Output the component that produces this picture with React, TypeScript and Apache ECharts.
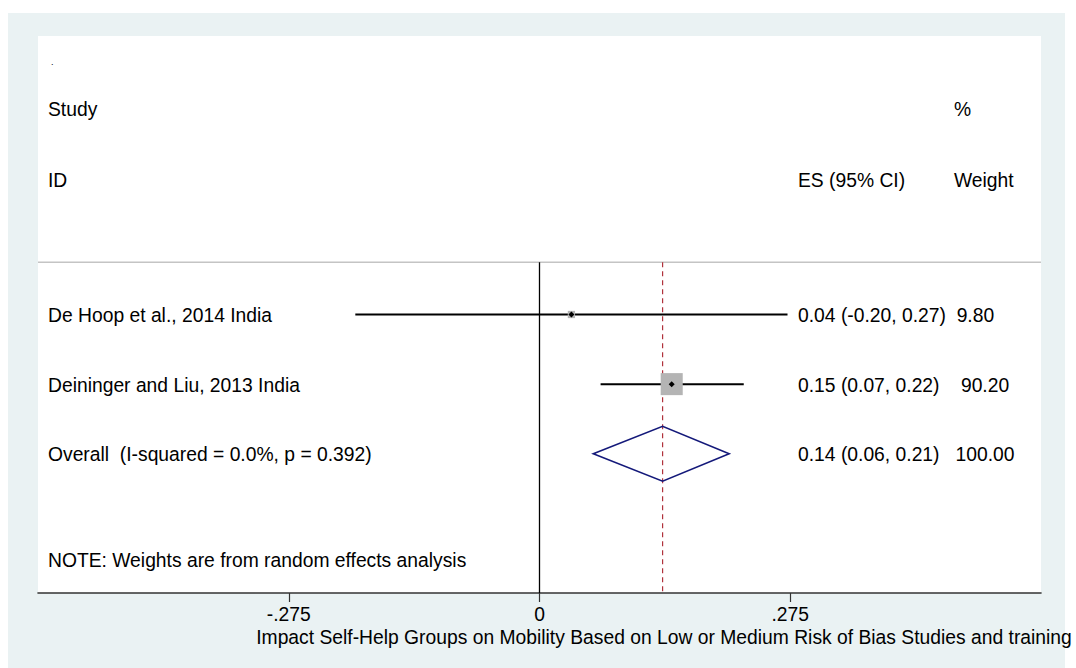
import React, { useEffect, useRef } from 'react';
import * as echarts from 'echarts';

// ---- data ----
const studies = ['De Hoop et al., 2014 India', 'Deininger and Liu, 2013 India'];
const studyES = [0.035, 0.145];
const studyLo = [-0.202, 0.067];
const studyHi = [0.272, 0.224];
const studyWeight = [9.8, 90.2];
const studyRow = [1, 2];

const overallLabel = 'Overall\u00a0\u00a0(I-squared = 0.0%, p = 0.392)';
const overallES = 0.135;
const overallLo = 0.059;
const overallHi = 0.208;
const overallRow = 3;

const esText = ['0.04 (-0.20, 0.27)', '0.15 (0.07, 0.22)', '0.14 (0.06, 0.21)'];
const weightText = ['9.80', '90.20', '100.00'];
const weightPad = [2, 4, 3];

const xTicks = [-0.275, 0, 0.275];
const xTickLabels = ['-.275', '0', '.275'];
const xTitle = 'Impact Self-Help Groups on Mobility Based on Low or Medium Risk of Bias Studies and training';
const noteText = 'NOTE: Weights are from random effects analysis';

// ---- layout constants ----
const X_MIN = -0.55;
const X_MAX = 0.55;
const Y_MIN = -3;
const Y_MAX = 5;
const RULE_ROW = 0.25;
const NOTE_ROW = 4.53;
const FONT = '"Liberation Sans", Arial, Helvetica, sans-serif';
const FS = 19.3;

export default function App() {
  const ref = useRef<HTMLDivElement>(null);

  useEffect(() => {
    if (!ref.current) return;
    const chart = echarts.init(ref.current, null, { renderer: 'svg' });

    const studyData = studies.map((_, i) => [studyLo[i], studyHi[i], studyES[i], studyWeight[i], studyRow[i]]);
    const labelRows = [
      ...studies.map((s, i) => ({ value: [X_MIN, studyRow[i]], name: s, idx: i })),
      { value: [X_MIN, overallRow], name: overallLabel, idx: 2 },
    ];

    const option: any = {
      animation: false,
      backgroundColor: '#ffffff',
      textStyle: { fontFamily: FONT },
      grid: { left: 38, right: 35, top: 36, bottom: 75, containLabel: false },
      xAxis: {
        type: 'value',
        min: X_MIN,
        max: X_MAX,
        interval: 0.275,
        axisLine: { show: true, onZero: false, lineStyle: { color: '#333333', width: 1.6 } },
        axisTick: { show: true, customValues: xTicks, length: 9, lineStyle: { color: '#333333', width: 1.2 } },
        axisLabel: {
          show: true,
          customValues: xTicks,
          margin: 12,
          fontSize: FS,
          color: '#000',
          fontFamily: FONT,
          formatter: (v: number) => {
            const k = xTicks.findIndex((t) => Math.abs(t - v) < 1e-9);
            return k >= 0 ? xTickLabels[k] : '';
          },
        },
        splitLine: { show: false },
      },
      yAxis: {
        type: 'value',
        inverse: true,
        min: Y_MIN,
        max: Y_MAX,
        show: false,
        splitLine: { show: false },
      },
      graphic: [
        { type: 'rect', z: -100, shape: { x: 8, y: 13, width: 1057, height: 655 }, style: { fill: '#eaf2f3' }, silent: true },
        { type: 'rect', z: -99, shape: { x: 38, y: 36, width: 1003, height: 557 }, style: { fill: '#ffffff' }, silent: true },
        { type: 'text', x: 51, y: 62, style: { text: '.', fontSize: 9, fill: '#000', fontFamily: FONT, verticalAlign: 'middle' } },
        { type: 'text', x: 48, y: 109, style: { text: 'Study', fontSize: FS, fill: '#000', fontFamily: FONT, verticalAlign: 'middle' } },
        { type: 'text', x: 954, y: 109, style: { text: '%', fontSize: FS, fill: '#000', fontFamily: FONT, verticalAlign: 'middle' } },
        { type: 'text', x: 48, y: 180, style: { text: 'ID', fontSize: FS, fill: '#000', fontFamily: FONT, verticalAlign: 'middle' } },
        { type: 'text', x: 798, y: 180, style: { text: 'ES (95% CI)', fontSize: FS, fill: '#000', fontFamily: FONT, verticalAlign: 'middle' } },
        { type: 'text', x: 954, y: 180, style: { text: 'Weight', fontSize: FS, fill: '#000', fontFamily: FONT, verticalAlign: 'middle' } },
        { type: 'text', x: 664, y: 637, style: { text: xTitle, fontSize: FS, fill: '#000', fontFamily: FONT, align: 'center', verticalAlign: 'middle' } },
      ],
      series: [
        {
          name: 'rule',
          type: 'line',
          symbol: 'none',
          silent: true,
          z: 1,
          lineStyle: { color: '#c4c4c4', width: 1.5 },
          data: [[X_MIN, RULE_ROW], [X_MAX, RULE_ROW]],
        },
        {
          name: 'null',
          type: 'line',
          symbol: 'none',
          silent: true,
          z: 2,
          lineStyle: { color: '#000', width: 1.3 },
          data: [[0, RULE_ROW], [0, Y_MAX]],
        },
        {
          name: 'overall line',
          type: 'line',
          symbol: 'none',
          silent: true,
          z: 2,
          lineStyle: { color: '#b0323c', width: 1.2, type: [5, 4] },
          data: [[overallES, RULE_ROW], [overallES, Y_MAX]],
        },
        {
          name: 'studies',
          type: 'custom',
          z: 3,
          encode: { x: [0, 1, 2], y: 4 },
          data: studyData,
          renderItem: (params: any, api: any) => {
            const row = api.value(4);
            const lo = api.coord([api.value(0), row]);
            const hi = api.coord([api.value(1), row]);
            const c = api.coord([api.value(2), row]);
            const s = 2.32 * Math.sqrt(api.value(3));
            const d = 3;
            return {
              type: 'group',
              children: [
                { type: 'line', shape: { x1: lo[0], y1: lo[1], x2: hi[0], y2: hi[1] }, style: { stroke: '#000', lineWidth: 2 } },
                { type: 'rect', shape: { x: c[0] - s / 2, y: c[1] - s / 2, width: s, height: s }, style: { fill: '#b4b4b4' } },
                {
                  type: 'polygon',
                  shape: { points: [[c[0] - d, c[1]], [c[0], c[1] - d], [c[0] + d, c[1]], [c[0], c[1] + d]] },
                  style: { fill: '#000' },
                },
              ],
            };
          },
        },
        {
          name: 'overall',
          type: 'custom',
          z: 3,
          encode: { x: [0, 1, 2], y: 3 },
          data: [[overallLo, overallHi, overallES, overallRow]],
          renderItem: (params: any, api: any) => {
            const row = api.value(3);
            const lo = api.coord([api.value(0), row]);
            const hi = api.coord([api.value(1), row]);
            const c = api.coord([api.value(2), row]);
            const h = 27.5;
            return {
              type: 'polygon',
              shape: { points: [[lo[0], lo[1]], [c[0], c[1] - h], [hi[0], hi[1]], [c[0], c[1] + h]] },
              style: { fill: 'rgba(255,255,255,0)', stroke: '#14197a', lineWidth: 1.6 },
            };
          },
        },
        {
          name: 'labels',
          type: 'custom',
          z: 4,
          encode: { x: 0, y: 1 },
          data: labelRows,
          renderItem: (params: any, api: any) => {
            const item = labelRows[params.dataIndex];
            const p = api.coord([api.value(0), api.value(1)]);
            const cs = params.coordSys;
            const i = item.idx;
            const right = esText[i] + '\u00a0'.repeat(weightPad[i]) + weightText[i];
            return {
              type: 'group',
              children: [
                { type: 'text', x: cs.x + 10, y: p[1] + 1, style: { text: item.name, fontSize: FS, fill: '#000', fontFamily: FONT, verticalAlign: 'middle' } },
                { type: 'text', x: cs.x + 760, y: p[1] + 1, style: { text: right, fontSize: FS, fill: '#000', fontFamily: FONT, verticalAlign: 'middle' } },
              ],
            };
          },
        },
        {
          name: 'note',
          type: 'custom',
          z: 4,
          encode: { x: 0, y: 1 },
          data: [[X_MIN, NOTE_ROW]],
          renderItem: (params: any, api: any) => {
            const p = api.coord([api.value(0), api.value(1)]);
            return {
              type: 'text',
              x: params.coordSys.x + 10,
              y: p[1],
              style: { text: noteText, fontSize: FS, fill: '#000', fontFamily: FONT, verticalAlign: 'middle' },
            };
          },
        },
      ],
    };

    chart.setOption(option);
    return () => chart.dispose();
  }, []);

  return <div ref={ref} style={{ position: 'fixed', left: 0, top: 0, width: 1076, height: 668 }} />;
}
